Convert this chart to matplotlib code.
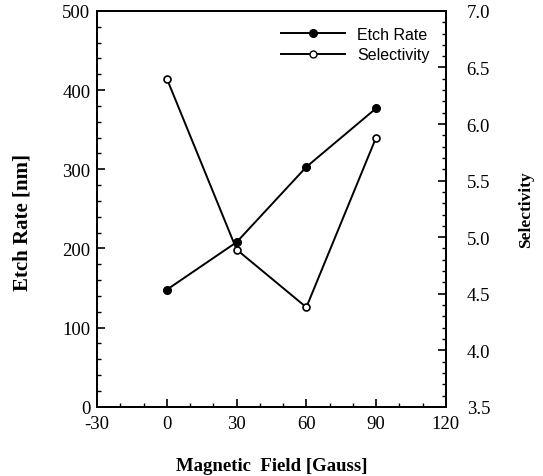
import numpy as np
import matplotlib.pyplot as plt
from matplotlib.ticker import MultipleLocator
from matplotlib.lines import Line2D

# values
field_gauss = [0, 30, 60, 90]
etch_rate_nm = [148, 208, 303, 377]
selectivity = [6.40, 4.89, 4.38, 5.88]

serif = "Liberation Serif"
sans = "Liberation Sans"
plt.rcParams["axes.unicode_minus"] = False

fig = plt.figure(figsize=(5.43, 4.77), dpi=100)
ax = fig.add_axes([0.179, 0.145, 0.642, 0.830])
ax2 = ax.twinx()

ax.plot(field_gauss, etch_rate_nm, color="black", lw=1.4, marker="o",
        markersize=5.5, markerfacecolor="black", zorder=3)
ax2.plot(field_gauss, selectivity, color="black", lw=1.4, marker="o",
         markersize=5, markerfacecolor="white", markeredgewidth=1.2, zorder=3)

ax.set_xlim(-30, 120)
ax.set_ylim(0, 500)
ax2.set_ylim(3.5, 7.0)

ax.xaxis.set_major_locator(MultipleLocator(30))
ax.xaxis.set_minor_locator(MultipleLocator(10))
ax.yaxis.set_major_locator(MultipleLocator(100))
ax.yaxis.set_minor_locator(MultipleLocator(20))
ax2.set_yticks(np.arange(3.5, 7.01, 0.5))
ax2.set_yticklabels([f"{v:.1f}" for v in np.arange(3.5, 7.01, 0.5)])
ax2.yaxis.set_minor_locator(MultipleLocator(0.1))

for a in (ax, ax2):
    a.tick_params(which="major", direction="in", length=6, width=1.2,
                  labelsize=13.5, pad=5)
    a.tick_params(which="minor", direction="in", length=3, width=1.0)
    for lbl in a.get_xticklabels() + a.get_yticklabels():
        lbl.set_fontfamily(serif)
    for sp in a.spines.values():
        sp.set_linewidth(1.4)
ax.tick_params(axis="x", pad=6)
ax2.tick_params(axis="y", pad=15)

ax.set_xlabel("Magnetic  Field [Gauss]", fontfamily=serif, fontweight="bold",
              fontsize=13.5, labelpad=18)
ax.set_ylabel("Etch Rate [nm]", fontfamily=serif, fontweight="bold",
              fontsize=15)
ax.yaxis.set_label_coords(-0.186, 0.468)
ax2.set_ylabel("Selectivity", fontfamily=serif, fontweight="bold",
               fontsize=12.5, labelpad=20, rotation=90)

handles = [
    Line2D([], [], color="black", lw=1.4, marker="o", markersize=5.5,
           markerfacecolor="black"),
    Line2D([], [], color="black", lw=1.4, marker="o", markersize=5,
           markerfacecolor="white"),
]
leg = ax.legend(handles, ["Etch Rate", "Selectivity"], loc="upper right",
                frameon=False, handlelength=4,
                prop={"family": sans, "size": 11.5}, borderaxespad=0.6,
                labelspacing=0.35)

fig.savefig("out.png", dpi=100)
